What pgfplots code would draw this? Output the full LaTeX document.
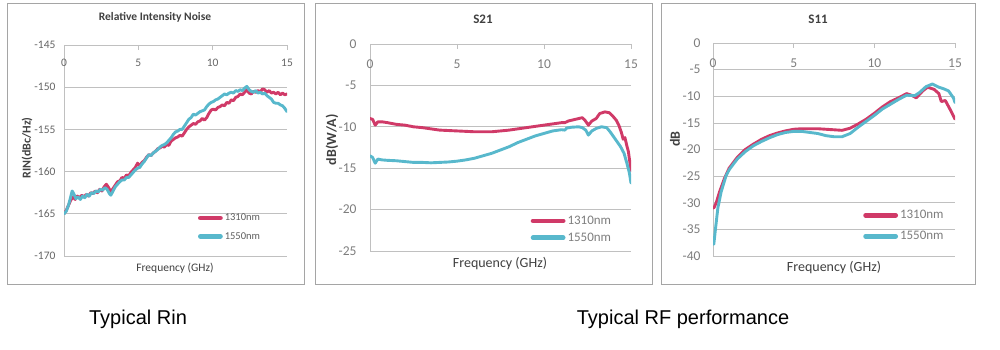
\documentclass[border=0pt]{standalone}
\usepackage{fontspec}
\setmainfont{Carlito}
\newfontfamily\capfont{Liberation Sans}
\usepackage{pgfplots}
\pgfplotsset{compat=1.18}
\definecolor{cred}{RGB}{208,58,104}
\definecolor{ccyan}{RGB}{88,184,204}
\definecolor{gridc}{RGB}{192,192,192}
\definecolor{tickc}{RGB}{125,125,125}
\definecolor{labc}{RGB}{64,64,64}
\definecolor{framec}{RGB}{165,165,165}
\pgfplotsset{
  panel/.style={
    scale only axis, xmin=0, xmax=15, xtick={0,5,10,15},
    axis x line*=top, axis y line*=left,
    axis line style={draw=gridc, line width=0.7pt, -},
    ymajorgrids, grid style={draw=gridc, line width=0.7pt},
    tick align=inside, major tick length=5pt,
    tick style={draw=gridc, line width=0.7pt},
    /pgf/number format/assume math mode=true,
    legend cell align=left,
    every axis plot/.append style={line width=2.9pt, line join=round, line cap=round},
  },
  leg/.style={legend image code/.code={\draw[##1, line width=4.8pt, line cap=round] (0pt,0pt) -- (#1,0pt);}},
}
\begin{document}
\begin{tikzpicture}[x=1pt,y=1pt]
\path[use as bounding box] (0,0) rectangle (1000,350);
% frames
\draw[framec, line width=0.9pt] (7,347) rectangle (304,66);
\draw[framec, line width=0.9pt] (315,347) rectangle (652,66);
\draw[framec, line width=0.9pt] (661,347) rectangle (975,66);

% ---------- Panel 1: RIN ----------
\begin{axis}[panel, leg=20pt, at={(64pt,94pt)}, anchor=south west, width=223pt, height=211pt,
  ymin=-170, ymax=-145, ytick={-170,-165,...,-145},
  ticklabel style={font=\fontsize{11.5}{11.5}\selectfont, text=labc!80},
  xticklabel style={anchor=center, yshift=-18pt},
  yticklabel style={xshift=-5pt},
  legend style={at={(0.60,0.21)}, anchor=north west, draw=none, fill=none,
    font=\fontsize{10.5}{10.5}\selectfont, text=labc!85, row sep=6pt, inner sep=0pt},
]
\addplot[cred] coordinates {
(0,-165.0)(0.15,-164.6)(0.3,-164.0)(0.45,-163.4)(0.6,-163.0)(0.75,-163.3)(0.9,-162.9)(1.05,-163.1)
(1.2,-162.8)(1.35,-163.0)(1.5,-162.7)(1.65,-162.9)(1.8,-162.5)(1.95,-162.6)(2.1,-162.3)(2.25,-162.5)
(2.4,-162.1)(2.55,-162.3)(2.7,-161.8)(2.85,-161.5)(3.0,-161.9)(3.15,-162.4)(3.3,-162.0)(3.45,-161.6)
(3.6,-161.2)(3.75,-161.1)(3.9,-160.7)(4.05,-160.8)(4.2,-160.4)(4.35,-160.5)(4.5,-160.1)(4.65,-159.8)
(4.8,-159.5)(4.95,-159.0)(5.1,-159.3)(5.25,-158.9)(5.4,-158.7)(5.55,-158.3)(5.7,-158.0)(5.85,-158.1)
(6.0,-157.8)(6.15,-157.6)(6.3,-157.3)(6.45,-157.2)(6.6,-157.0)(6.75,-157.1)(6.9,-156.8)(7.05,-156.9)
(7.2,-156.4)(7.35,-156.2)(7.5,-156.0)(7.65,-155.9)(7.8,-155.7)(7.95,-155.8)(8.1,-155.4)(8.25,-155.0)
(8.4,-154.7)(8.55,-154.5)(8.7,-154.3)(8.85,-154.4)(9.0,-154.1)(9.15,-154.0)(9.3,-153.7)(9.45,-153.9)
(9.6,-153.6)(9.75,-153.1)(9.9,-152.7)(10.05,-152.6)(10.2,-152.7)(10.35,-152.4)(10.5,-152.3)(10.65,-152.1)
(10.8,-152.2)(10.95,-151.8)(11.1,-151.9)(11.25,-151.5)(11.4,-151.6)(11.55,-151.2)(11.7,-151.1)(11.85,-150.8)
(12.0,-150.9)(12.15,-150.6)(12.3,-150.3)(12.45,-150.7)(12.6,-150.8)(12.75,-150.5)(12.9,-150.6)(13.05,-150.4)
(13.2,-150.6)(13.35,-150.2)(13.5,-150.3)(13.65,-150.6)(13.8,-150.4)(13.95,-150.7)(14.1,-150.6)(14.25,-150.8)
(14.4,-150.6)(14.55,-150.9)(14.7,-150.7)(14.85,-150.9)(15.0,-150.8)};
\addlegendentry{1310nm}
\addplot[ccyan] coordinates {
(0,-165.0)(0.15,-164.7)(0.3,-164.0)(0.45,-163.0)(0.55,-162.3)(0.65,-162.6)(0.8,-163.2)(0.95,-163.0)
(1.1,-163.3)(1.25,-162.9)(1.4,-163.1)(1.55,-162.7)(1.7,-162.9)(1.85,-162.5)(2.0,-162.6)(2.15,-162.3)
(2.3,-162.4)(2.45,-162.1)(2.6,-162.2)(2.75,-161.9)(2.9,-162.1)(3.05,-162.6)(3.15,-162.8)(3.3,-162.3)
(3.45,-161.8)(3.6,-161.5)(3.75,-161.2)(3.9,-161.0)(4.05,-161.0)(4.2,-160.7)(4.35,-160.7)(4.5,-160.4)
(4.65,-160.1)(4.8,-159.8)(4.95,-159.6)(5.1,-159.5)(5.25,-159.1)(5.4,-158.8)(5.55,-158.4)(5.7,-158.0)
(5.85,-158.1)(6.0,-157.8)(6.15,-157.6)(6.3,-157.4)(6.45,-157.1)(6.6,-156.9)(6.75,-156.8)(6.9,-156.6)
(7.05,-156.3)(7.2,-156.0)(7.35,-155.6)(7.5,-155.3)(7.65,-155.2)(7.8,-155.0)(7.95,-155.0)(8.1,-154.6)
(8.25,-154.2)(8.4,-153.8)(8.55,-153.6)(8.7,-153.2)(8.85,-153.3)(9.0,-153.1)(9.15,-152.9)(9.3,-152.8)
(9.45,-152.7)(9.6,-152.3)(9.75,-152.0)(9.9,-151.8)(10.05,-151.7)(10.2,-151.5)(10.35,-151.4)(10.5,-151.2)
(10.65,-151.0)(10.8,-150.8)(10.95,-150.9)(11.1,-150.7)(11.25,-150.6)(11.4,-150.7)(11.55,-150.4)(11.7,-150.5)
(11.85,-150.3)(12.0,-150.4)(12.15,-150.1)(12.3,-149.9)(12.45,-150.3)(12.6,-150.5)(12.75,-150.6)(12.9,-150.4)
(13.05,-150.7)(13.2,-150.6)(13.35,-150.8)(13.5,-150.7)(13.65,-151.0)(13.8,-151.2)(13.95,-151.4)(14.1,-151.8)
(14.25,-151.9)(14.4,-151.9)(14.55,-152.1)(14.7,-152.2)(14.85,-152.5)(15.0,-152.9)};
\addlegendentry{1550nm}
\end{axis}

% ---------- Panel 2: S21 ----------
\begin{axis}[panel, leg=30pt, at={(370pt,99pt)}, anchor=south west, width=261pt, height=207pt,
  ymin=-25, ymax=0, ytick={-25,-20,...,0},
  ticklabel style={font=\fontsize{13.5}{13.5}\selectfont, text=tickc},
  xticklabel style={anchor=center, yshift=-20pt},
  yticklabel style={xshift=-10pt},
  legend style={at={(0.615,0.18)}, anchor=north west, draw=none, fill=none,
    font=\fontsize{13}{13}\selectfont, text=tickc, row sep=3pt, inner sep=0pt},
]
\addplot[cred] coordinates {
(0,-9.0)(0.15,-9.1)(0.3,-9.8)(0.45,-9.4)(0.7,-9.4)(1,-9.5)(1.5,-9.7)(2,-9.8)(2.5,-10.0)(3,-10.1)
(3.5,-10.25)(4,-10.4)(4.5,-10.45)(5,-10.5)(5.5,-10.55)(6,-10.6)(6.5,-10.6)(7,-10.6)(7.5,-10.5)(8,-10.4)
(8.5,-10.25)(9,-10.1)(9.5,-9.95)(10,-9.8)(10.5,-9.65)(11,-9.5)(11.2,-9.5)(11.4,-9.3)(11.7,-9.15)(12,-9.0)
(12.2,-8.9)(12.35,-9.2)(12.55,-9.8)(12.75,-9.3)(13.0,-9.0)(13.2,-8.4)(13.5,-8.2)(13.75,-8.3)(13.95,-8.7)
(14.15,-9.2)(14.3,-9.8)(14.45,-10.7)(14.55,-11.5)(14.65,-11.3)(14.75,-12.2)(14.85,-13.0)(15.0,-15.3)};
\addlegendentry{1310nm}
\addplot[ccyan] coordinates {
(0,-13.5)(0.15,-13.7)(0.3,-14.4)(0.45,-13.9)(0.7,-14.0)(1,-14.05)(1.5,-14.1)(2,-14.2)(2.5,-14.3)(3,-14.3)
(3.5,-14.35)(4,-14.3)(4.5,-14.25)(5,-14.15)(5.5,-14.0)(6,-13.8)(6.5,-13.5)(7,-13.2)(7.5,-12.8)(8,-12.4)
(8.5,-11.9)(9,-11.5)(9.5,-11.1)(10,-10.8)(10.5,-10.5)(11,-10.35)(11.2,-10.4)(11.3,-10.15)(11.6,-10.05)
(12,-10.0)(12.2,-10.1)(12.4,-10.4)(12.55,-11.0)(12.75,-10.5)(13.0,-10.2)(13.3,-10.0)(13.6,-10.1)
(13.8,-10.6)(14.0,-11.2)(14.2,-11.8)(14.4,-12.4)(14.6,-13.2)(14.75,-14.3)(14.9,-15.5)(15.0,-16.8)};
\addlegendentry{1550nm}
\end{axis}

% ---------- Panel 3: S11 ----------
\begin{axis}[panel, leg=30pt, at={(713pt,94pt)}, anchor=south west, width=242pt, height=213pt,
  ymin=-40, ymax=0, ytick={-40,-35,...,0},
  ticklabel style={font=\fontsize{13.5}{13.5}\selectfont, text=tickc},
  xticklabel style={anchor=center, yshift=-20pt},
  yticklabel style={xshift=-9pt},
  legend style={at={(0.62,0.225)}, anchor=north west, draw=none, fill=none,
    font=\fontsize{13}{13}\selectfont, text=tickc, row sep=7pt, inner sep=0pt},
]
\addplot[cred] coordinates {
(0.05,-31.0)(0.2,-30.0)(0.4,-28.0)(0.7,-25.5)(1,-23.5)(1.5,-21.5)(2,-20.0)(2.5,-19.0)(3,-18.1)
(3.5,-17.4)(4,-16.9)(4.5,-16.5)(5,-16.2)(5.5,-16.1)(6,-16.1)(6.5,-16.1)(7,-16.2)(7.5,-16.3)(8,-16.4)
(8.5,-16.0)(9,-15.2)(9.5,-14.3)(10,-13.2)(10.5,-12.0)(11,-11.0)(11.5,-10.3)(12,-9.5)(12.3,-9.8)
(12.6,-10.3)(13,-9.0)(13.3,-8.3)(13.7,-8.7)(14,-9.5)(14.15,-11.0)(14.4,-10.8)(14.7,-12.5)(15,-14.3)};
\addlegendentry{1310nm}
\addplot[ccyan] coordinates {
(0.05,-37.8)(0.15,-35.0)(0.3,-31.0)(0.5,-28.0)(0.8,-25.0)(1,-23.8)(1.5,-21.8)(2,-20.4)(2.5,-19.3)
(3,-18.5)(3.5,-17.8)(4,-17.2)(4.5,-16.8)(5,-16.6)(5.5,-16.6)(6,-16.8)(6.5,-17.0)(7,-17.4)(7.5,-17.6)
(8,-17.6)(8.5,-17.0)(9,-15.8)(9.5,-14.7)(10,-13.6)(10.5,-12.4)(11,-11.5)(11.5,-10.6)(12,-9.8)
(12.5,-9.9)(12.8,-9.3)(13.2,-8.2)(13.6,-7.7)(14,-8.3)(14.3,-8.6)(14.6,-9.0)(14.9,-10.3)(15,-11.2)};
\addlegendentry{1550nm}
\end{axis}

% titles and labels
\node[font=\bfseries\fontsize{11.5}{11.5}\selectfont, text=labc] at (155,333) {Relative Intensity Noise};
\node[font=\bfseries\fontsize{13}{13}\selectfont, text=labc] at (483,331) {S21};
\node[font=\bfseries\fontsize{13}{13}\selectfont, text=labc] at (818,331) {S11};
\node[font=\fontsize{11.5}{11.5}\selectfont, text=labc] at (175,82) {Frequency (GHz)};
\node[font=\fontsize{14}{14}\selectfont, text=labc] at (500,86) {Frequency (GHz)};
\node[font=\fontsize{14}{14}\selectfont, text=labc] at (834,82) {Frequency (GHz)};
\node[font=\bfseries\fontsize{12}{12}\selectfont, text=labc, rotate=90] at (27,202) {RIN(dBc/Hz)};
\node[font=\bfseries\fontsize{14}{14}\selectfont, text=labc, rotate=90] at (332,210) {dB(W/A)};
\node[font=\bfseries\fontsize{14}{14}\selectfont, text=labc, rotate=90] at (675,211) {dB};
% captions
\node[font=\capfont\fontsize{20}{20}\selectfont] at (138,31) {Typical Rin};
\node[font=\capfont\fontsize{20}{20}\selectfont] at (683,31) {Typical RF performance};
\end{tikzpicture}
\end{document}
